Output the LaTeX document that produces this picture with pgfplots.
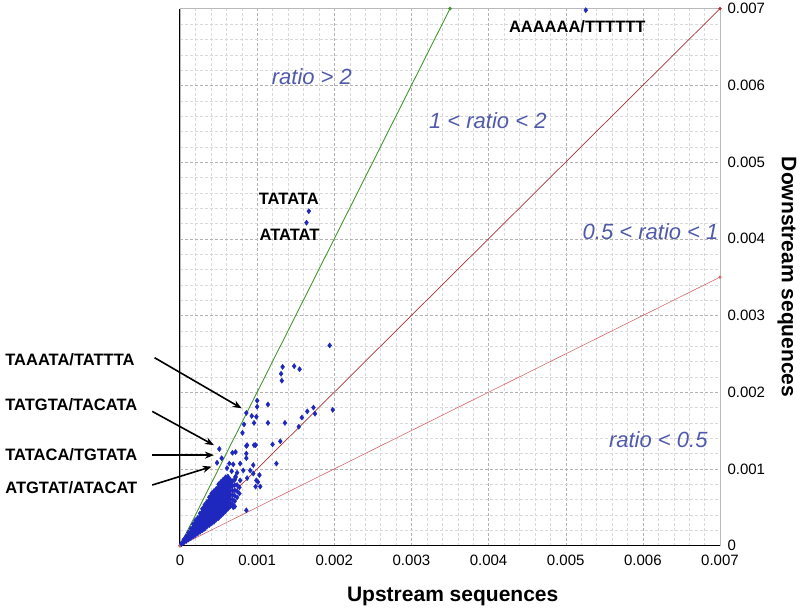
\documentclass[border=0pt]{standalone}
\usepackage{pgfplots}
\pgfplotsset{compat=1.18}
\usepackage{fontspec}
\setmainfont{Liberation Sans}
\usetikzlibrary{arrows.meta}

\definecolor{ratiogreen}{RGB}{70,150,50}
\definecolor{ratiored}{RGB}{170,50,50}
\definecolor{ratiopink}{RGB}{215,105,105}
\definecolor{dotblue}{RGB}{30,40,190}
\definecolor{notecol}{RGB}{80,90,170}

% values are in units of 1e-4 (tick labels carry the real numbers)
\pgfplotstableread{
x y
0.2 0.2
0.2 0.3
0.5 0.4
0.5 0.6
0.5 0.8
0.8 0.6
0.8 0.9
0.8 1.2
1.1 0.8
1.1 1.1
1.1 1.4
1.1 1.7
1.4 1.0
1.4 1.4
1.4 1.8
1.4 2.2
1.7 1.2
1.7 1.6
1.7 2.0
1.7 2.4
1.7 2.8
2.0 1.4
2.0 1.8
2.0 2.2
2.0 2.6
2.0 3.0
2.0 3.3
2.3 1.6
2.3 2.0
2.3 2.4
2.3 2.8
2.3 3.2
2.3 3.6
2.6 1.8
2.6 2.2
2.6 2.6
2.6 3.0
2.6 3.4
2.6 3.8
2.6 4.2
2.9 2.0
2.9 2.4
2.9 2.8
2.9 3.2
2.9 3.6
2.9 4.0
2.9 4.4
2.9 4.8
3.2 2.2
3.2 2.6
3.2 3.0
3.2 3.4
3.2 3.8
3.2 4.2
3.2 4.6
3.2 5.0
3.2 5.3
3.5 2.5
3.5 2.9
3.5 3.3
3.5 3.7
3.5 4.1
3.5 4.5
3.5 4.9
3.5 5.3
3.5 5.7
3.8 2.7
3.8 3.1
3.8 3.5
3.8 3.9
3.8 4.3
3.8 4.7
3.8 5.1
3.8 5.5
3.8 5.9
3.8 6.3
4.1 2.9
4.1 3.3
4.1 3.7
4.1 4.1
4.1 4.5
4.1 4.9
4.1 5.3
4.1 5.7
4.1 6.1
4.1 6.5
4.1 6.8
4.4 3.1
4.4 3.5
4.4 3.9
4.4 4.3
4.4 4.7
4.4 5.1
4.4 5.5
4.4 5.9
4.4 6.3
4.4 6.7
4.4 7.1
4.7 3.4
4.7 3.8
4.7 4.2
4.7 4.6
4.7 5.0
4.7 5.4
4.7 5.8
4.7 6.2
4.7 6.6
4.7 7.0
4.7 7.4
5.0 3.6
5.0 4.0
5.0 4.4
5.0 4.8
5.0 5.2
5.0 5.6
5.0 6.0
5.0 6.4
5.0 6.8
5.0 7.2
5.0 7.6
5.0 8.0
5.3 3.9
5.3 4.3
5.3 4.7
5.3 5.1
5.3 5.5
5.3 5.9
5.3 6.3
5.3 6.7
5.3 7.1
5.3 7.5
5.3 7.9
5.3 8.3
5.6 4.2
5.6 4.6
5.6 5.0
5.6 5.4
5.6 5.8
5.6 6.2
5.6 6.6
5.6 7.0
5.6 7.4
5.6 7.8
5.6 8.2
5.6 8.6
5.9 4.5
5.9 4.9
5.9 5.3
5.9 5.7
5.9 6.1
5.9 6.5
5.9 6.9
5.9 7.3
5.9 7.7
5.9 8.1
5.9 8.5
5.9 8.9
6.2 4.8
6.2 5.2
6.2 5.6
6.2 6.0
6.2 6.4
6.2 6.8
6.2 7.2
6.2 7.6
6.2 8.0
6.2 8.4
6.2 8.8
6.5 5.1
6.5 5.6
6.5 6.1
6.5 6.6
6.5 7.1
6.5 7.6
6.5 8.1
6.5 8.6
6.8 5.4
6.8 6.0
6.8 6.6
6.8 7.2
6.8 7.8
6.8 8.4
7.1 5.8
7.1 6.5
7.1 7.2
7.1 7.9
7.1 8.6
7.4 6.3
7.4 7.1
7.4 7.9
7.7 6.8
7.7 7.6
}\cluster

\pgfplotstableread{
x y
2.1 3.0
3.1 4.8
6.2 9.0
7.2 8.9
8.7 8.8
9.8 7.7
7.1 5.1
8.6 4.6
5.4 11.4
4.8 10.8
5.1 12.6
6.8 12.1
7.2 12.2
8.6 13.0
9.6 13.1
12.0 13.2
13.0 13.6
8.6 12.0
8.6 11.4
6.4 10.7
6.9 10.6
7.8 10.7
9.5 10.5
12.5 10.7
6.1 10.1
6.7 9.7
7.4 9.5
8.2 9.8
9.1 9.8
9.5 9.4
10.3 9.2
7.2 9.0
7.8 8.5
9.9 8.5
10.4 7.7
10.1 8.3
6.9 5.0
8.1 14.7
8.3 15.8
8.7 13.1
9.8 13.1
9.6 16.0
11.4 16.0
13.6 16.0
8.6 17.3
9.3 16.9
9.9 16.8
10.0 18.9
10.0 18.1
11.4 18.4
13.3 23.3
14.8 23.4
15.5 23.0
13.1 22.4
13.2 21.5
19.4 26.1
17.3 18.0
16.5 17.5
17.5 17.2
15.8 16.7
19.8 17.7
15.4 15.5
16.7 43.6
16.4 42.1
52.6 69.8
}\outliers

\begin{document}
\begin{tikzpicture}
\begin{axis}[
    name=ax,
    scale only axis,
    width=540pt, height=537pt,
    xmin=0, xmax=70, ymin=0, ymax=70,
    xtick={0,10,...,70},
    ytick={0,10,...,70},
    xticklabels={0,0.001,0.002,0.003,0.004,0.005,0.006,0.007},
    yticklabels={0,0.001,0.002,0.003,0.004,0.005,0.006,0.007},
    minor tick num=4,
    major tick length=0pt, minor tick length=0pt,
    ytick pos=right, yticklabel pos=right,
    grid=both,
    major grid style={gray!60, densely dashed, line width=0.4pt},
    minor grid style={gray!30, densely dashed, line width=0.3pt},
    axis line style={gray!55, line width=0.4pt},
    tick label style={font=\fontsize{15}{17}\selectfont},
    xticklabel style={yshift=-6pt},
    yticklabel style={xshift=4pt},
    clip=false,
]
% ratio reference lines
\addplot[ratiogreen, line width=0.9pt, mark=*, mark size=1.3pt] coordinates {(0,0) (35,70)};
\addplot[ratiored, line width=0.7pt, mark=*, mark size=1.3pt] coordinates {(0,0) (70,70)};
\addplot[ratiopink, line width=0.6pt, mark=*, mark size=1.3pt] coordinates {(0,0) (70,35)};

\addplot[only marks, mark=diamond*, mark size=2.6pt, color=dotblue] table {\cluster};
\addplot[only marks, mark=diamond*, mark size=2.6pt, color=dotblue] table {\outliers};

% axis lines left and bottom
\draw[black, line width=1pt] (rel axis cs:0,1) -- (rel axis cs:0,0) -- (rel axis cs:1,0);

% region notes
\begin{scope}[every node/.style={font=\fontsize{22}{24}\selectfont\itshape, text=notecol}]
\node at (axis cs:17.1,61.1) {ratio > 2};
\node at (axis cs:39.9,55.4) {1 < ratio < 2};
\node at (axis cs:61.0,40.9) {0.5 < ratio < 1};
\node at (axis cs:62.0,13.8) {ratio < 0.5};
\end{scope}

% sequence labels
\begin{scope}[every node/.style={font=\fontsize{16.5}{18}\selectfont\bfseries}]
\node at (axis cs:14.1,45.2) {TATATA};
\node at (axis cs:14.2,40.5) {ATATAT};
\node at (axis cs:51.5,67.7) {AAAAAA/TTTTTT};
\node[anchor=west] at (axis cs:-23.1,24.2) {TAAATA/TATTTA};
\node[anchor=west] at (axis cs:-23.1,18.4) {TATGTA/TACATA};
\node[anchor=west] at (axis cs:-23.1,11.9) {TATACA/TGTATA};
\node[anchor=west] at (axis cs:-23.1,7.6) {ATGTAT/ATACAT};
\end{scope}

\begin{scope}[line width=1.6pt, -{Stealth[length=9pt,width=7pt]}]
\draw (axis cs:-3.3,24.5) -- (axis cs:8.0,17.9);
\draw (axis cs:-3.6,17.5) -- (axis cs:4.4,13.1);
\draw (axis cs:-3.6,11.8) -- (axis cs:4.4,11.8);
\draw (axis cs:-3.6,7.9) -- (axis cs:4.1,10.3);
\end{scope}

% axis titles
\node[font=\fontsize{21}{23}\selectfont\bfseries] at ([yshift=-51pt]rel axis cs:0.505,0) {Upstream sequences};
\node[font=\fontsize{21}{23}\selectfont\bfseries, rotate=-90] at ([xshift=67pt]rel axis cs:1,0.5) {Downstream sequences};
\end{axis}
\path ([shift={(-180pt,-67pt)}]ax.south west) rectangle ([shift={(80pt,5pt)}]ax.north east);
\end{tikzpicture}
\end{document}
